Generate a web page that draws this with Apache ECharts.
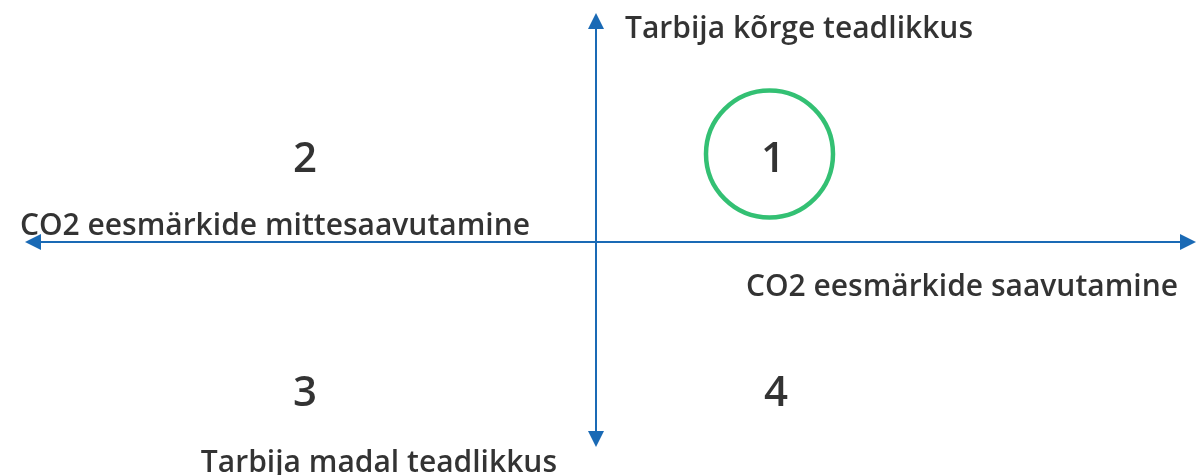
<!DOCTYPE html>
<html>
<head>
<meta charset="UTF-8">
<script src="https://cdn.jsdelivr.net/npm/echarts@6/dist/echarts.min.js"></script>
<style>
  html, body { margin: 0; padding: 0; background: #fff; }
  #chart { width: 1196px; height: 475px; }
</style>
</head>
<body>
<div id="chart"></div>
<script>
// axis ranges (units of the diagram, 0 = crossing point)
const xRange = [-5.63, 5.92]
const yRange = [-1.97, 2.21]

// quadrant numbers and where they sit
const quadrantNames = ['1', '2', '3', '4']
const quadrantX = [1.77, -2.91, -2.91, 1.80]
const quadrantY = [0.82, 0.82, -1.52, -1.52]

// axis titles
const axisTitles = ['Tarbija kõrge teadlikkus', 'CO2 eesmärkide mittesaavutamine', 'CO2 eesmärkide saavutamine', 'Tarbija madal teadlikkus']
const axisTitleX = [0.29, -0.66, 5.82, -0.39]
const axisTitleY = [2.13, 0.16, -0.45, -2.21]
const axisTitleAlign = ['left', 'right', 'right', 'right']

// highlighted quadrant
const highlight = [1.735, 0.88]

const FONT = '"Open Sans"'

const chart = echarts.init(document.getElementById('chart'))

const axisLine = {
  show: true,
  onZero: true,
  symbol: ['triangle', 'triangle'],
  symbolSize: [16, 16],
  lineStyle: { color: '#1a6ab5', width: 2 }
}

chart.setOption({
  animation: false,
  grid: { left: 33, right: 8, top: 21, bottom: 36 },
  xAxis: {
    type: 'value', min: xRange[0], max: xRange[1],
    axisLine: axisLine, axisTick: { show: false }, axisLabel: { show: false }, splitLine: { show: false }
  },
  yAxis: {
    type: 'value', min: yRange[0], max: yRange[1],
    axisLine: axisLine, axisTick: { show: false }, axisLabel: { show: false }, splitLine: { show: false }
  },
  series: [
    {
      type: 'scatter',
      clip: false,
      silent: true,
      symbol: 'circle',
      symbolSize: 127,
      itemStyle: { color: 'rgba(0,0,0,0)', borderColor: '#00b050', borderWidth: 4.5 },
      data: [highlight]
    },
    {
      type: 'scatter',
      clip: false,
      silent: true,
      symbolSize: 0,
      label: {
        show: true, position: 'inside', color: '#000',
        fontFamily: FONT, fontSize: 42, fontWeight: 600,
        formatter: p => quadrantNames[p.dataIndex]
      },
      data: quadrantX.map((x, i) => [x, quadrantY[i]])
    },
    {
      type: 'scatter',
      clip: false,
      silent: true,
      symbolSize: 0,
      data: axisTitleX.map((x, i) => ({
        value: [x, axisTitleY[i]],
        label: {
          show: true, position: 'inside', color: '#000',
          fontFamily: FONT, fontSize: 30, fontWeight: 600,
          align: axisTitleAlign[i], verticalAlign: 'middle',
          formatter: axisTitles[i]
        }
      }))
    }
  ]
})
</script>
</body>
</html>
